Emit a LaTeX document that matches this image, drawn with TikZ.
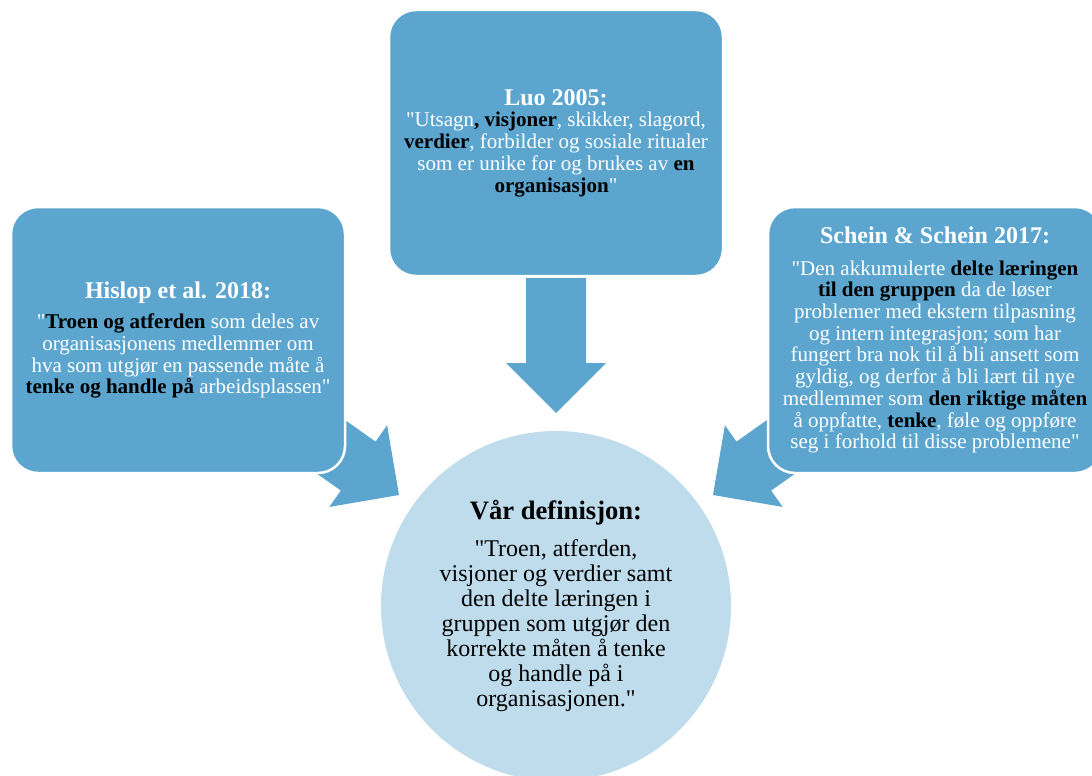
\documentclass[tikz,border=0pt]{standalone}
\usepackage{fontspec}
\setmainfont{Liberation Serif}[Ligatures=TeXOff, BoldFont={Liberation Serif Bold}]
\definecolor{boxblue}{RGB}{91,165,207}
\definecolor{discblue}{RGB}{190,220,236}
\newcommand\kw[1]{{\bfseries\color{black}#1}}
\newcommand\boxtitle[1]{{\fontsize{24}{24}\selectfont\bfseries #1}}
\begin{document}
\begin{tikzpicture}[x=1pt,y=-1pt,
  srcbox/.style={rectangle, rounded corners=27pt, fill=boxblue, draw=white,
    line width=2.5pt, minimum width=334pt, minimum height=266pt, inner sep=0pt,
    align=center, text=white, font=\fontsize{21}{21.7}\selectfont},
  defdisc/.style={circle, fill=discblue, minimum size=350pt, inner sep=0pt,
    align=center, text=black, font=\fontsize{24}{25}\selectfont},
  arrowfill/.style={fill=boxblue},
  pics/flowarrow/.style={code={
    \fill[arrowfill] (0,0) -- (-50,50) -- (-50,30) -- (-#1,30) -- (-#1,-30)
      -- (-50,-30) -- (-50,-50) -- cycle;}}
]
\useasboundingbox (0,0) rectangle (1092,776);
\clip (0,0) rectangle (1092,776);

% block arrows, drawn first so the boxes sit on top of their tails
\coordinate (downtip) at (556,413);
\coordinate (lefttip) at (399,495);
\coordinate (righttip) at (713,495);
\pic[rotate=-90] at (downtip) {flowarrow=135};
\pic[rotate=-35.3] at (lefttip) {flowarrow=110};
\pic[rotate=-144.7] at (righttip) {flowarrow=110};

% source definitions
\node[srcbox] (luo) at (556,143) {%
  \boxtitle{Luo 2005:}\\
  "Utsagn\kw{, visjoner}, skikker, slagord,\\
  \kw{verdier}, forbilder og sosiale ritualer\\
  som er unike for og brukes av \kw{en}\\
  \kw{organisasjon}"};

\node[srcbox] (hislop) at (178,340) {%
  \boxtitle{Hislop et al. 2018:}\\[9pt]
  "\kw{Troen og atferden} som deles av\\
  organisasjonens medlemmer om\\
  hva som utgjør en passende måte å\\
  \kw{tenke og handle på} arbeidsplassen"};

\node[srcbox] (schein) at (935,340) {%
  \boxtitle{Schein \& Schein 2017:}\\[10pt]
  "Den akkumulerte \kw{delte læringen}\\
  \kw{til den gruppen} da de løser\\
  problemer med ekstern tilpasning\\
  og intern integrasjon; som har\\
  fungert bra nok til å bli ansett som\\
  gyldig, og derfor å bli lært til nye\\
  medlemmer som \kw{den riktige måten}\\
  å oppfatte, \kw{tenke}, føle og oppføre\\
  seg i forhold til disse problemene"};

% combined definition
\node[defdisc] (def) at (556,606) {%
  {\fontsize{26.6}{26.6}\selectfont\bfseries Vår definisjon:}\\[12pt]
  "Troen, atferden,\\
  visjoner og verdier samt\\
  den delte læringen i\\
  gruppen som utgjør den\\
  korrekte måten å tenke\\
  og handle på i\\
  organisasjonen."};
\end{tikzpicture}
\end{document}
